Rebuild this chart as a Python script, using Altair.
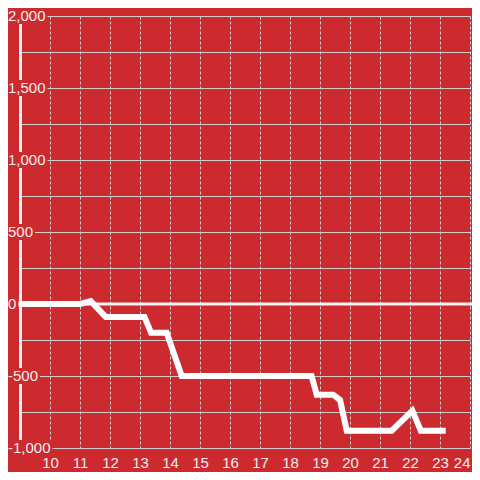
import altair as alt
import pandas as pd

# ---- data ----
line_x = [8.95, 11.0, 11.36, 11.86, 13.15, 13.37, 13.89, 14.39, 18.72, 18.89,
          19.44, 19.67, 19.89, 21.39, 22.08, 22.36, 23.19]
line_y = [0, 0, 20, -90, -90, -200, -200, -500, -500, -630,
          -630, -667, -880, -880, -741, -880, -880]

x_ticks = list(range(10, 25))
y_grid = list(range(-1000, 2001, 250))
y_label_values = [2000, 1500, 1000, 500, 0, -500, -1000]
y_label_texts = ["2,000", "1,500", "1,000", "500", "0", "-500", "-1,000"]

# ---- style ----
BG = "#cc2a2f"
FG = "#eeeeee"
GRID = "#cfcfcf"
FONT = "Liberation Sans, Arial, sans-serif"
W, H = 450, 432
X_DOM = [9, 24]
Y_DOM = [-1000, 2000]
PX_PER_UNIT = H / (Y_DOM[1] - Y_DOM[0])
LABEL_X = -12


def text_width(s, size=15):
    w = 0.0
    for ch in s:
        if ch.isdigit():
            w += 0.556 * size
        elif ch == ",":
            w += 0.278 * size
        else:
            w += 0.333 * size
    return w


line_df = pd.DataFrame({"x": line_x, "y": line_y})
half = 8 / PX_PER_UNIT
lab_df = pd.DataFrame({
    "v": y_label_values,
    "t": y_label_texts,
    # the lowest label is nudged up so it clears the "10" x label
    "dy": [-4 if v == min(y_label_values) else 0 for v in y_label_values],
    "bx0": [LABEL_X] * len(y_label_values),
    "bx1": [LABEL_X + text_width(t) + 2 for t in y_label_texts],
    "by0": [v - half for v in y_label_values],
    "by1": [v + half for v in y_label_values],
})
zero_df = pd.DataFrame({"y": [0]})

xscale = alt.Scale(domain=X_DOM, nice=False, zero=False)
yscale = alt.Scale(domain=Y_DOM, nice=False, zero=False)

xaxis = alt.Axis(
    values=x_ticks, grid=True, gridDash=[3, 2], gridColor=GRID, gridWidth=1,
    domain=False, ticks=False, labelColor=FG, labelFontSize=15, labelFont=FONT,
    labelPadding=7, labelFlush=True, labelOverlap=False, format="d", title=None)
yaxis = alt.Axis(
    values=y_grid, grid=True, gridColor=GRID, gridWidth=1, labels=False,
    ticks=False, domain=True, domainColor=FG, domainWidth=3, title=None)

line = alt.Chart(line_df).mark_line(
    color="#ffffff", strokeWidth=6, strokeJoin="miter", strokeCap="butt"
).encode(
    x=alt.X("x:Q", scale=xscale, axis=xaxis),
    y=alt.Y("y:Q", scale=yscale, axis=yaxis),
)

zero = alt.Chart(zero_df).mark_rule(color="#f4f4f4", strokeWidth=3).encode(
    y=alt.Y("y:Q", scale=yscale, axis=yaxis),
    x=alt.value(-2),
    x2=alt.value(W + 2),
)

boxes = alt.Chart(lab_df).mark_rect(color=BG).encode(
    x=alt.X("bx0:Q", scale=None, axis=None),
    x2="bx1:Q",
    y=alt.Y("by0:Q", scale=yscale, axis=yaxis),
    y2="by1:Q",
)

labels = alt.Chart(lab_df).mark_text(
    align="left", baseline="middle", fontSize=15, font=FONT, color=FG
).encode(
    x=alt.value(LABEL_X),
    y=alt.Y("v:Q", scale=yscale, axis=yaxis),
    yOffset=alt.YOffset("dy:Q", scale=None),
    text="t:N",
)

chart = alt.layer(zero, line, boxes, labels).properties(
    width=W, height=H,
    padding={"left": 12, "top": 8, "right": 2, "bottom": 24},
    autosize="none",
).configure(background=BG).configure_view(stroke=None)

chart.save("out.html", embed_options={"renderer": "svg", "actions": False})
